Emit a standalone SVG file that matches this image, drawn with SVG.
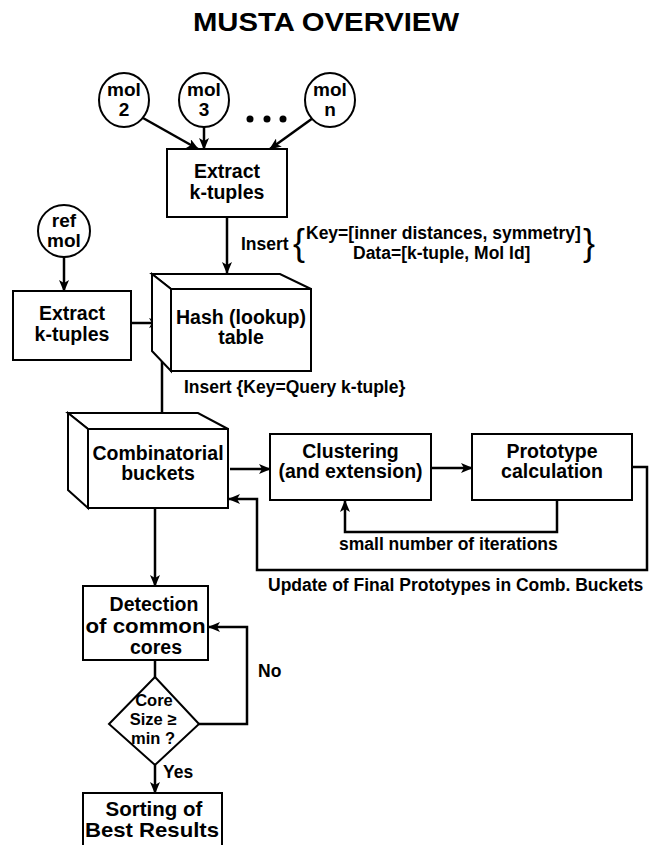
<svg xmlns="http://www.w3.org/2000/svg" width="649" height="845" viewBox="0 0 649 845">
<style>
  text { font-family: "Liberation Sans", Arial, sans-serif; font-weight: bold; fill: #000; }
  .node { font-size: 19.5px; text-anchor: middle; }
  .dia { font-size: 16.5px; text-anchor: middle; }
  .lbl { font-size: 17.5px; }
  .box { fill: #fff; stroke: #000; stroke-width: 2; }
  .conn { fill: none; stroke: #000; stroke-width: 2.5; }
</style>
<defs>
  <marker id="ah" markerWidth="12" markerHeight="10" refX="11" refY="5" orient="auto" markerUnits="userSpaceOnUse">
    <path d="M0,0 L12,5 L0,10 L3,5 z" fill="#000"/>
  </marker>
</defs>
<rect width="649" height="845" fill="#fff"/>
<text id="title" x="193" y="31" style="font-size:25px" textLength="266" lengthAdjust="spacingAndGlyphs">MUSTA OVERVIEW</text>

<g id="connectors">
  <path class="conn" d="M143,118 L198,149" marker-end="url(#ah)"/>
  <path class="conn" d="M204,127 L204,149" marker-end="url(#ah)"/>
  <path class="conn" d="M313,118 L270,149" marker-end="url(#ah)"/>
  <path class="conn" d="M227,217 L227,273" marker-end="url(#ah)"/>
  <path class="conn" d="M64,257 L64,291" marker-end="url(#ah)"/>
  <path class="conn" d="M131,323 L160,323" marker-end="url(#ah)"/>
  <path class="conn" d="M162,323 L162,429" marker-end="url(#ah)"/>
  <path class="conn" d="M230,469 L270,469" marker-end="url(#ah)"/>
  <path class="conn" d="M431,468 L472,468" marker-end="url(#ah)"/>
  <path class="conn" d="M557,500 L557,532 L345,532 L345,501" marker-end="url(#ah)"/>
  <path class="conn" d="M632,467 L647,467 L647,570 L257,570 L257,499 L229,499" marker-end="url(#ah)"/>
  <path class="conn" d="M155,508 L155,586" marker-end="url(#ah)"/>
  <path class="conn" d="M155,660 L155,677"/>
  <path class="conn" d="M199,724 L247,724 L247,627 L209,627" marker-end="url(#ah)"/>
  <path class="conn" d="M155,765 L155,793" marker-end="url(#ah)"/>
</g>

<g id="mol2">
  <ellipse class="box" cx="124" cy="100" rx="25" ry="27"/>
  <text class="node" x="124" y="96" style="font-size:19px">mol</text>
  <text class="node" x="124" y="116" style="font-size:19px">2</text>
</g>
<g id="mol3">
  <ellipse class="box" cx="204" cy="100" rx="25" ry="27"/>
  <text class="node" x="204" y="96" style="font-size:19px">mol</text>
  <text class="node" x="204" y="116" style="font-size:19px">3</text>
</g>
<g id="dots">
  <circle cx="250" cy="119" r="3.5" fill="#000"/>
  <circle cx="267" cy="119" r="3.5" fill="#000"/>
  <circle cx="283" cy="119" r="3.5" fill="#000"/>
</g>
<g id="moln">
  <ellipse class="box" cx="330" cy="100" rx="25" ry="27"/>
  <text class="node" x="330" y="96" style="font-size:19px">mol</text>
  <text class="node" x="330" y="116" style="font-size:19px">n</text>
</g>
<g id="extract1">
  <rect class="box" x="167" y="149" width="120" height="68"/>
  <text class="node" x="227" y="178">Extract</text>
  <text class="node" x="227" y="199">k-tuples</text>
</g>
<g id="refmol">
  <ellipse class="box" cx="64" cy="231" rx="26" ry="26"/>
  <text class="node" x="64" y="227" style="font-size:19px">ref</text>
  <text class="node" x="64" y="247" style="font-size:19px">mol</text>
</g>
<g id="extract2">
  <rect class="box" x="13" y="291" width="118" height="69"/>
  <text class="node" x="72" y="320">Extract</text>
  <text class="node" x="72" y="341">k-tuples</text>
</g>
<g id="hash">
  <polygon class="box" points="152,274 280,274 311,289 171,289"/>
  <polygon class="box" points="152,274 171,289 171,371 152,351"/>
  <rect class="box" x="171" y="289" width="140" height="82"/>
  <text class="node" x="241" y="324">Hash (lookup)</text>
  <text class="node" x="241" y="344">table</text>
</g>
<g id="insert1">
  <text class="lbl" x="241" y="250">Insert</text>
  <text x="293" y="255" style="font-size:36px;font-weight:normal">{</text>
  <text class="lbl" x="306" y="239">Key=[inner distances, symmetry]</text>
  <text class="lbl" x="353" y="259">Data=[k-tuple, Mol Id]</text>
  <text x="583" y="255" style="font-size:36px;font-weight:normal">}</text>
</g>
<g id="insert2">
  <text class="lbl" x="184" y="393">Insert {Key=Query k-tuple}</text>
</g>
<g id="comb">
  <polygon class="box" points="68,413 198,413 228,429 88,429"/>
  <polygon class="box" points="68,413 88,429 88,508 68,490"/>
  <rect class="box" x="88" y="429" width="140" height="79"/>
  <text class="node" x="158" y="460">Combinatorial</text>
  <text class="node" x="158" y="480">buckets</text>
</g>
<g id="clustering">
  <rect class="box" x="270" y="434" width="161" height="66"/>
  <text class="node" x="350.5" y="458">Clustering</text>
  <text class="node" x="350.5" y="478">(and extension)</text>
</g>
<g id="prototype">
  <rect class="box" x="472" y="434" width="160" height="66"/>
  <text class="node" x="552" y="458">Prototype</text>
  <text class="node" x="552" y="478">calculation</text>
</g>
<g id="iterlabel">
  <text class="lbl" x="339" y="550">small number of iterations</text>
</g>
<g id="updatelabel">
  <text class="lbl" x="268" y="591">Update of Final Prototypes in Comb. Buckets</text>
</g>
<g id="detection">
  <rect class="box" x="83" y="586" width="125" height="74"/>
  <text class="node" x="154" y="611">Detection</text>
  <text class="node" x="145.5" y="633" textLength="120" lengthAdjust="spacingAndGlyphs">of common</text>
  <text class="node" x="156" y="654">cores</text>
</g>
<g id="decision">
  <polygon class="box" points="155,677 199,724 155,765 109,724"/>
  <text class="dia" x="154" y="706">Core</text>
  <text class="dia" x="153" y="725">Size ≥</text>
  <text class="dia" x="153" y="744">min ?</text>
</g>
<g id="nolabel"><text class="lbl" x="258" y="677">No</text></g>
<g id="yeslabel"><text class="lbl" x="163" y="778">Yes</text></g>
<g id="sorting">
  <rect class="box" x="83" y="793" width="139" height="60"/>
  <text class="node" x="154" y="816" style="font-size:20.5px">Sorting of</text>
  <text class="node" x="152" y="837" style="font-size:20.5px" textLength="134" lengthAdjust="spacingAndGlyphs">Best Results</text>
</g>
</svg>
